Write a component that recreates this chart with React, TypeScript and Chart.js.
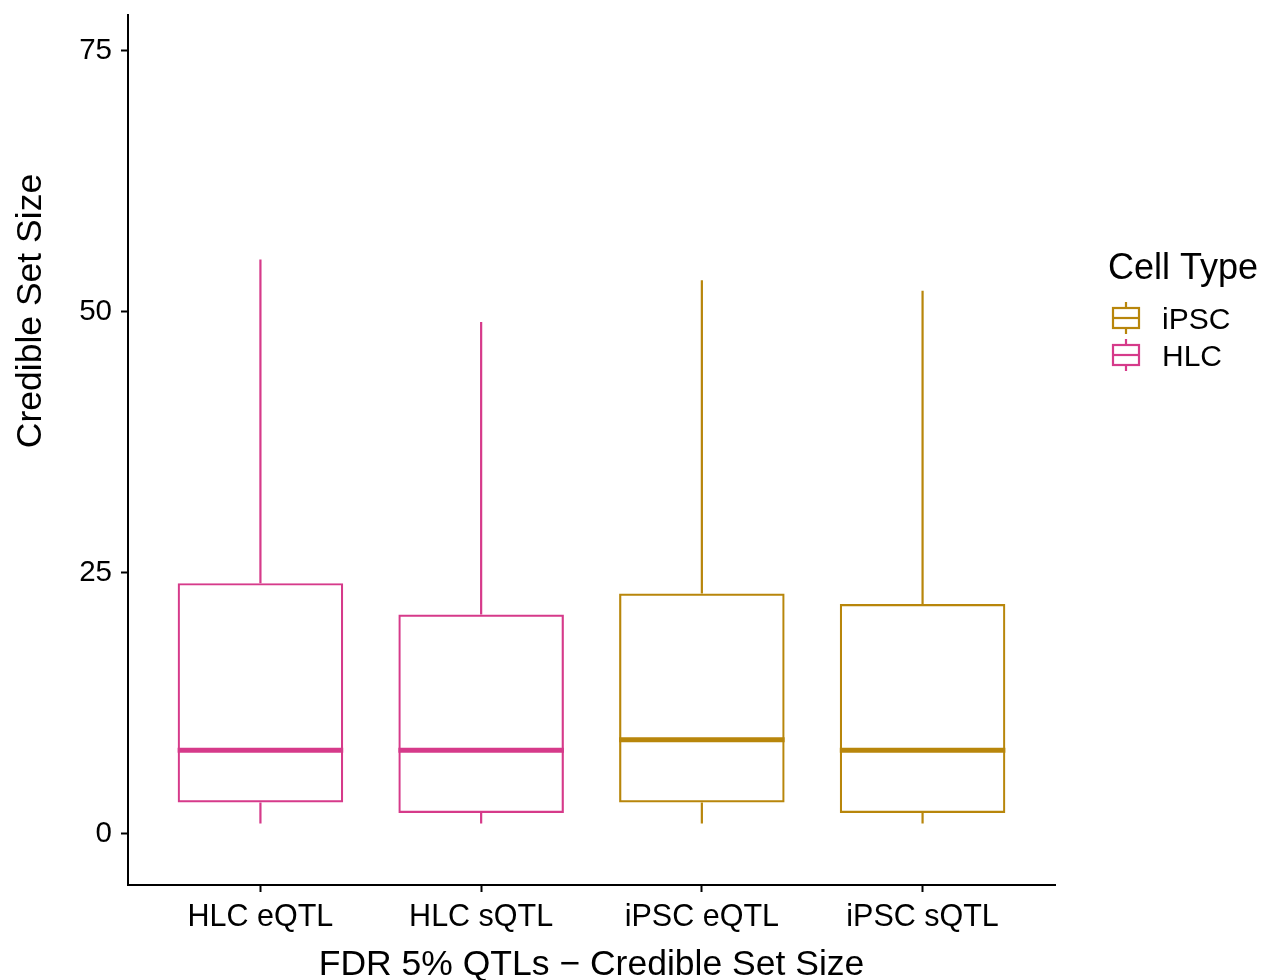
import React, { useEffect, useRef } from "react";
import { Chart, registerables } from "chart.js";

Chart.register(...registerables);

const categories = ["HLC eQTL", "HLC sQTL", "iPSC eQTL", "iPSC sQTL"];
const cellTypes = ["HLC", "HLC", "iPSC", "iPSC"];
const mins = [1, 1, 1, 1];
const q1s = [3, 2, 3, 2];
const medians = [8, 8, 9, 8];
const q3s = [24, 21, 23, 22];
const maxs = [55, 49, 53, 52];
const yTicks = [0, 25, 50, 75];
const legendItems = ["iPSC", "HLC"];

const COLORS: Record<string, string> = { HLC: "#D63A8A", iPSC: "#B8860B" };
const FONT = "'Liberation Sans', Arial, sans-serif";

const boxPlugin = {
  id: "boxExtras",
  afterDatasetsDraw(chart: any) {
    const ctx = chart.ctx;
    const y = chart.scales.y;
    const meta = chart.getDatasetMeta(0);
    ctx.save();
    meta.data.forEach((bar: any, i: number) => {
      const color = COLORS[cellTypes[i]];
      const cx = bar.x;
      const half = bar.width / 2;
      ctx.strokeStyle = color;
      ctx.lineCap = "butt";
      ctx.lineWidth = 2.2;
      ctx.beginPath();
      ctx.moveTo(cx, y.getPixelForValue(q3s[i]));
      ctx.lineTo(cx, y.getPixelForValue(maxs[i]));
      ctx.moveTo(cx, y.getPixelForValue(q1s[i]));
      ctx.lineTo(cx, y.getPixelForValue(mins[i]));
      ctx.stroke();
      ctx.lineWidth = 5;
      ctx.beginPath();
      const my = y.getPixelForValue(medians[i]);
      ctx.moveTo(cx - half, my);
      ctx.lineTo(cx + half, my);
      ctx.stroke();
    });
    ctx.restore();
  },
  afterDraw(chart: any) {
    const ctx = chart.ctx;
    ctx.save();
    ctx.fillStyle = "#000";
    // y axis title
    ctx.save();
    ctx.translate(31, 311);
    ctx.rotate(-Math.PI / 2);
    ctx.textAlign = "center";
    ctx.textBaseline = "middle";
    ctx.font = `35.5px ${FONT}`;
    ctx.fillText("Credible Set Size", 0, 0);
    ctx.restore();
    // legend
    ctx.textBaseline = "alphabetic";
    ctx.textAlign = "left";
    ctx.font = `36px ${FONT}`;
    ctx.fillText("Cell Type", 1108, 279);
    legendItems.forEach((name, k) => {
      const cy = 318 + k * 37;
      const color = COLORS[name];
      ctx.strokeStyle = color;
      ctx.lineWidth = 2.2;
      ctx.beginPath();
      ctx.moveTo(1126, cy - 16);
      ctx.lineTo(1126, cy - 10);
      ctx.moveTo(1126, cy + 10);
      ctx.lineTo(1126, cy + 16);
      ctx.stroke();
      ctx.strokeRect(1113, cy - 10, 26, 20);
      ctx.beginPath();
      ctx.moveTo(1113, cy);
      ctx.lineTo(1139, cy);
      ctx.stroke();
      ctx.fillStyle = "#000";
      ctx.font = `30px ${FONT}`;
      ctx.fillText(name, 1162, cy + 11);
    });
    ctx.restore();
  },
};

export default function App() {
  const ref = useRef<HTMLCanvasElement>(null);
  useEffect(() => {
    document.body.style.margin = "0";
    const canvas = ref.current!;
    const chart = new Chart(canvas, {
      type: "bar",
      data: {
        datasets: [
          {
            label: "boxes",
            data: categories.map((c, i) => ({ x: i + 1, y: [q1s[i], q3s[i]] })) as any,
            backgroundColor: "rgba(255,255,255,0)",
            borderColor: cellTypes.map((t) => COLORS[t]),
            borderWidth: 2.2,
            borderSkipped: false,
            barPercentage: 0.75,
            categoryPercentage: 1,
          },
        ],
      },
      options: {
        responsive: false,
        animation: false,
        events: [],
        layout: { padding: { top: 15, right: 209, left: 0, bottom: 0 } },
        plugins: { legend: { display: false }, tooltip: { enabled: false } },
        scales: {
          x: {
            type: "linear",
            offset: false,
            min: 0.4,
            max: 4.6,
            afterBuildTicks: (s: any) => {
              s.ticks = categories.map((_, i) => ({ value: i + 1 }));
            },
            afterFit: (s: any) => {
              s.height = 95;
              s.paddingLeft = 0;
              s.paddingRight = 0;
            },
            ticks: {
              autoSkip: false,
              maxRotation: 0,
              color: "#000",
              padding: 7,
              font: { family: FONT, size: 30.5 },
              callback: (v: any) => categories[Math.round(v) - 1] ?? "",
            },
            grid: { offset: false, drawOnChartArea: false, drawTicks: true, tickLength: 7, tickColor: "#000", tickWidth: 2 },
            border: { display: true, color: "#000", width: 2 },
            title: {
              display: true,
              text: "FDR 5% QTLs \u2212 Credible Set Size",
              color: "#000",
              font: { family: FONT, size: 35.5, lineHeight: 0.84 },
              padding: { top: 0, bottom: 0 },
            },
          },
          y: {
            type: "linear",
            min: -4.9,
            max: 78.4,
            afterBuildTicks: (s: any) => {
              s.ticks = yTicks.map((v) => ({ value: v }));
            },
            afterFit: (s: any) => {
              s.width = 128;
              s.paddingTop = 0;
              s.paddingBottom = 0;
            },
            ticks: {
              color: "#000",
              padding: 9,
              font: { family: FONT, size: 29.5 },
            },
            grid: { drawOnChartArea: false, drawTicks: true, tickLength: 7, tickColor: "#000", tickWidth: 2 },
            border: { display: true, color: "#000", width: 2 },
            title: { display: false },
          },
        },
      },
      plugins: [boxPlugin],
    });
    return () => chart.destroy();
  }, []);
  return <canvas ref={ref} width={1264} height={980} style={{ display: "block" }} />;
}
